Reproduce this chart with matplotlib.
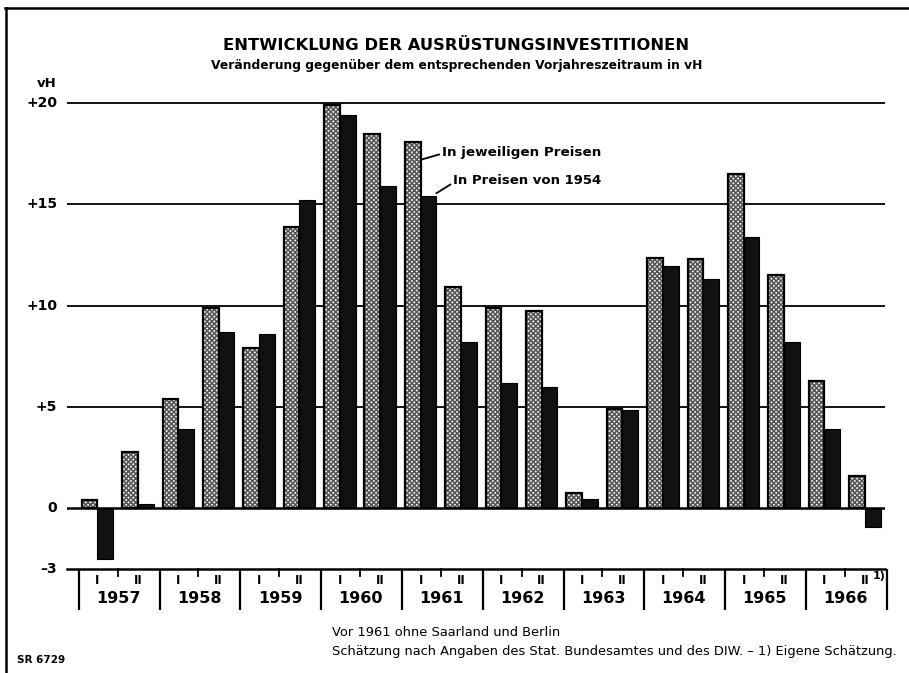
import matplotlib
matplotlib.use('Agg')
import matplotlib.pyplot as plt
from matplotlib.lines import Line2D
import numpy as np

# ---- data ----
years = ['1957', '1958', '1959', '1960', '1961', '1962', '1963', '1964', '1965', '1966']
halves = ['I', 'II']
# change vs. same period of previous year, in %
current_prices = [0.4, 2.8, 5.4, 9.9, 7.9, 13.9, 19.9, 18.5, 18.1, 10.9,
                  9.9, 9.75, 0.75, 4.9, 12.35, 12.3, 16.5, 11.5, 6.3, 1.6]
prices_1954 = [-2.5, 0.2, 3.9, 8.7, 8.6, 15.2, 19.4, 15.9, 15.4, 8.2,
               6.2, 6.0, 0.45, 4.85, 11.95, 11.3, 13.4, 8.2, 3.9, -0.95]
ytick_values = [20, 15, 10, 5, 0, -3]
ytick_labels = ['+20', '+15', '+10', '+5', '0', '\u20133']
grid_values = [5, 10, 15, 20]

title = 'ENTWICKLUNG DER AUSRÜSTUNGSINVESTITIONEN'
subtitle = 'Veränderung gegenüber dem entsprechenden Vorjahreszeitraum in vH'
label_current = 'In jeweiligen Preisen'
label_1954 = 'In Preisen von 1954'
note1 = 'Vor 1961 ohne Saarland und Berlin'
note2 = 'Schätzung nach Angaben des Stat. Bundesamtes und des DIW. \u2013 1) Eigene Schätzung.'
code = 'SR 6729'

plt.rcParams['font.family'] = ['DejaVu Sans']
plt.rcParams['hatch.linewidth'] = 1.1

W, H = 909, 673
fig = plt.figure(figsize=(W / 100, H / 100), dpi=100)
fig.patch.set_facecolor('white')


def fx(px):
    return px / W


def fy(py):
    return 1 - py / H


ax = fig.add_axes([fx(67), fy(569), fx(885) - fx(67), fy(93) - fy(569)])
ax.set_xlim(-0.755, 19.50)
ax.set_ylim(-3, 20.5)
ax.axis('off')

# grid lines
for v in grid_values:
    ax.axhline(v, color='black', lw=1.3, zorder=1)
ax.axhline(0, color='black', lw=1.8, zorder=5)
ax.axhline(-3, color='black', lw=1.8, zorder=5, clip_on=False)

# bars
x = np.arange(len(current_prices))
w = 0.39
ax.bar(x - w / 2, current_prices, w, color='#f2f2f2', edgecolor='#555555',
       hatch='xxxxxxx', lw=0, zorder=3)
ax.bar(x - w / 2, current_prices, w, fill=False, edgecolor='black', lw=1.6, zorder=4)
ax.bar(x + w / 2, prices_1954, w, color='#111111', edgecolor='black', lw=0.8, zorder=3)

# y tick labels
ytr = ax.get_yaxis_transform()
for v, lab in zip(ytick_values, ytick_labels):
    ax.text(-0.012, v, lab, transform=ytr, ha='right', va='center',
            fontsize=10, fontweight='bold')
ax.text(-0.037, 20.95, 'vH', transform=ytr, ha='left', va='center',
        fontsize=9.5, fontweight='bold')

# year boxes under the axis
for i in range(len(years) + 1):
    ax.plot([2 * i - 0.46] * 2, [-3, -5.0], color='black', lw=1.6,
            clip_on=False, solid_capstyle='butt')
for i, yr in enumerate(years):
    ax.plot([2 * i + 0.5] * 2, [-3, -3.35], color='black', lw=1.3, clip_on=False)
    ax.text(2 * i + 0.52, -4.45, yr, ha='center', va='center',
            fontsize=11.5, fontweight='bold')
    for j, h in enumerate(halves):
        ax.text(2 * i + j, -3.58, h, ha='center', va='center',
                fontsize=8.5, fontweight='bold')
ax.text(19.2, -3.35, '1)', ha='left', va='center', fontsize=8, fontweight='bold')

# legend annotations
ax.annotate(label_current, xy=(8.0, 17.2), xytext=(8.53, 17.57),
            ha='left', va='center', fontsize=9.7, fontweight='bold',
            arrowprops=dict(arrowstyle='-', lw=1.3, color='black',
                            shrinkA=0, shrinkB=0,
                            relpos=(0, 0.4)))
ax.annotate(label_1954, xy=(8.39, 15.55), xytext=(8.81, 16.2),
            ha='left', va='center', fontsize=9.5, fontweight='bold',
            arrowprops=dict(arrowstyle='-', lw=1.3, color='black',
                            shrinkA=0, shrinkB=0,
                            relpos=(0, 0.3)))

# titles
fig.text(fx(456), fy(45), title, ha='center', va='center',
         fontsize=11.8, fontweight='bold')
fig.text(fx(457), fy(65), subtitle, ha='center', va='center',
         fontsize=8.85, fontweight='bold')

# footnotes
fig.text(fx(332), fy(633), note1, ha='left', va='center', fontsize=9.4)
fig.text(fx(332), fy(652), note2, ha='left', va='center', fontsize=9.4)
fig.text(fx(17), fy(660), code, ha='left', va='center', fontsize=7.5, fontweight='bold')

# frame lines
fig.add_artist(Line2D([fx(5), 1], [fy(8), fy(8)], color='black', lw=1.8,
                      transform=fig.transFigure))
fig.add_artist(Line2D([fx(6), fx(6)], [fy(8), 0], color='black', lw=1.8,
                      transform=fig.transFigure))

fig.savefig('out.png', dpi=100, facecolor='white')
